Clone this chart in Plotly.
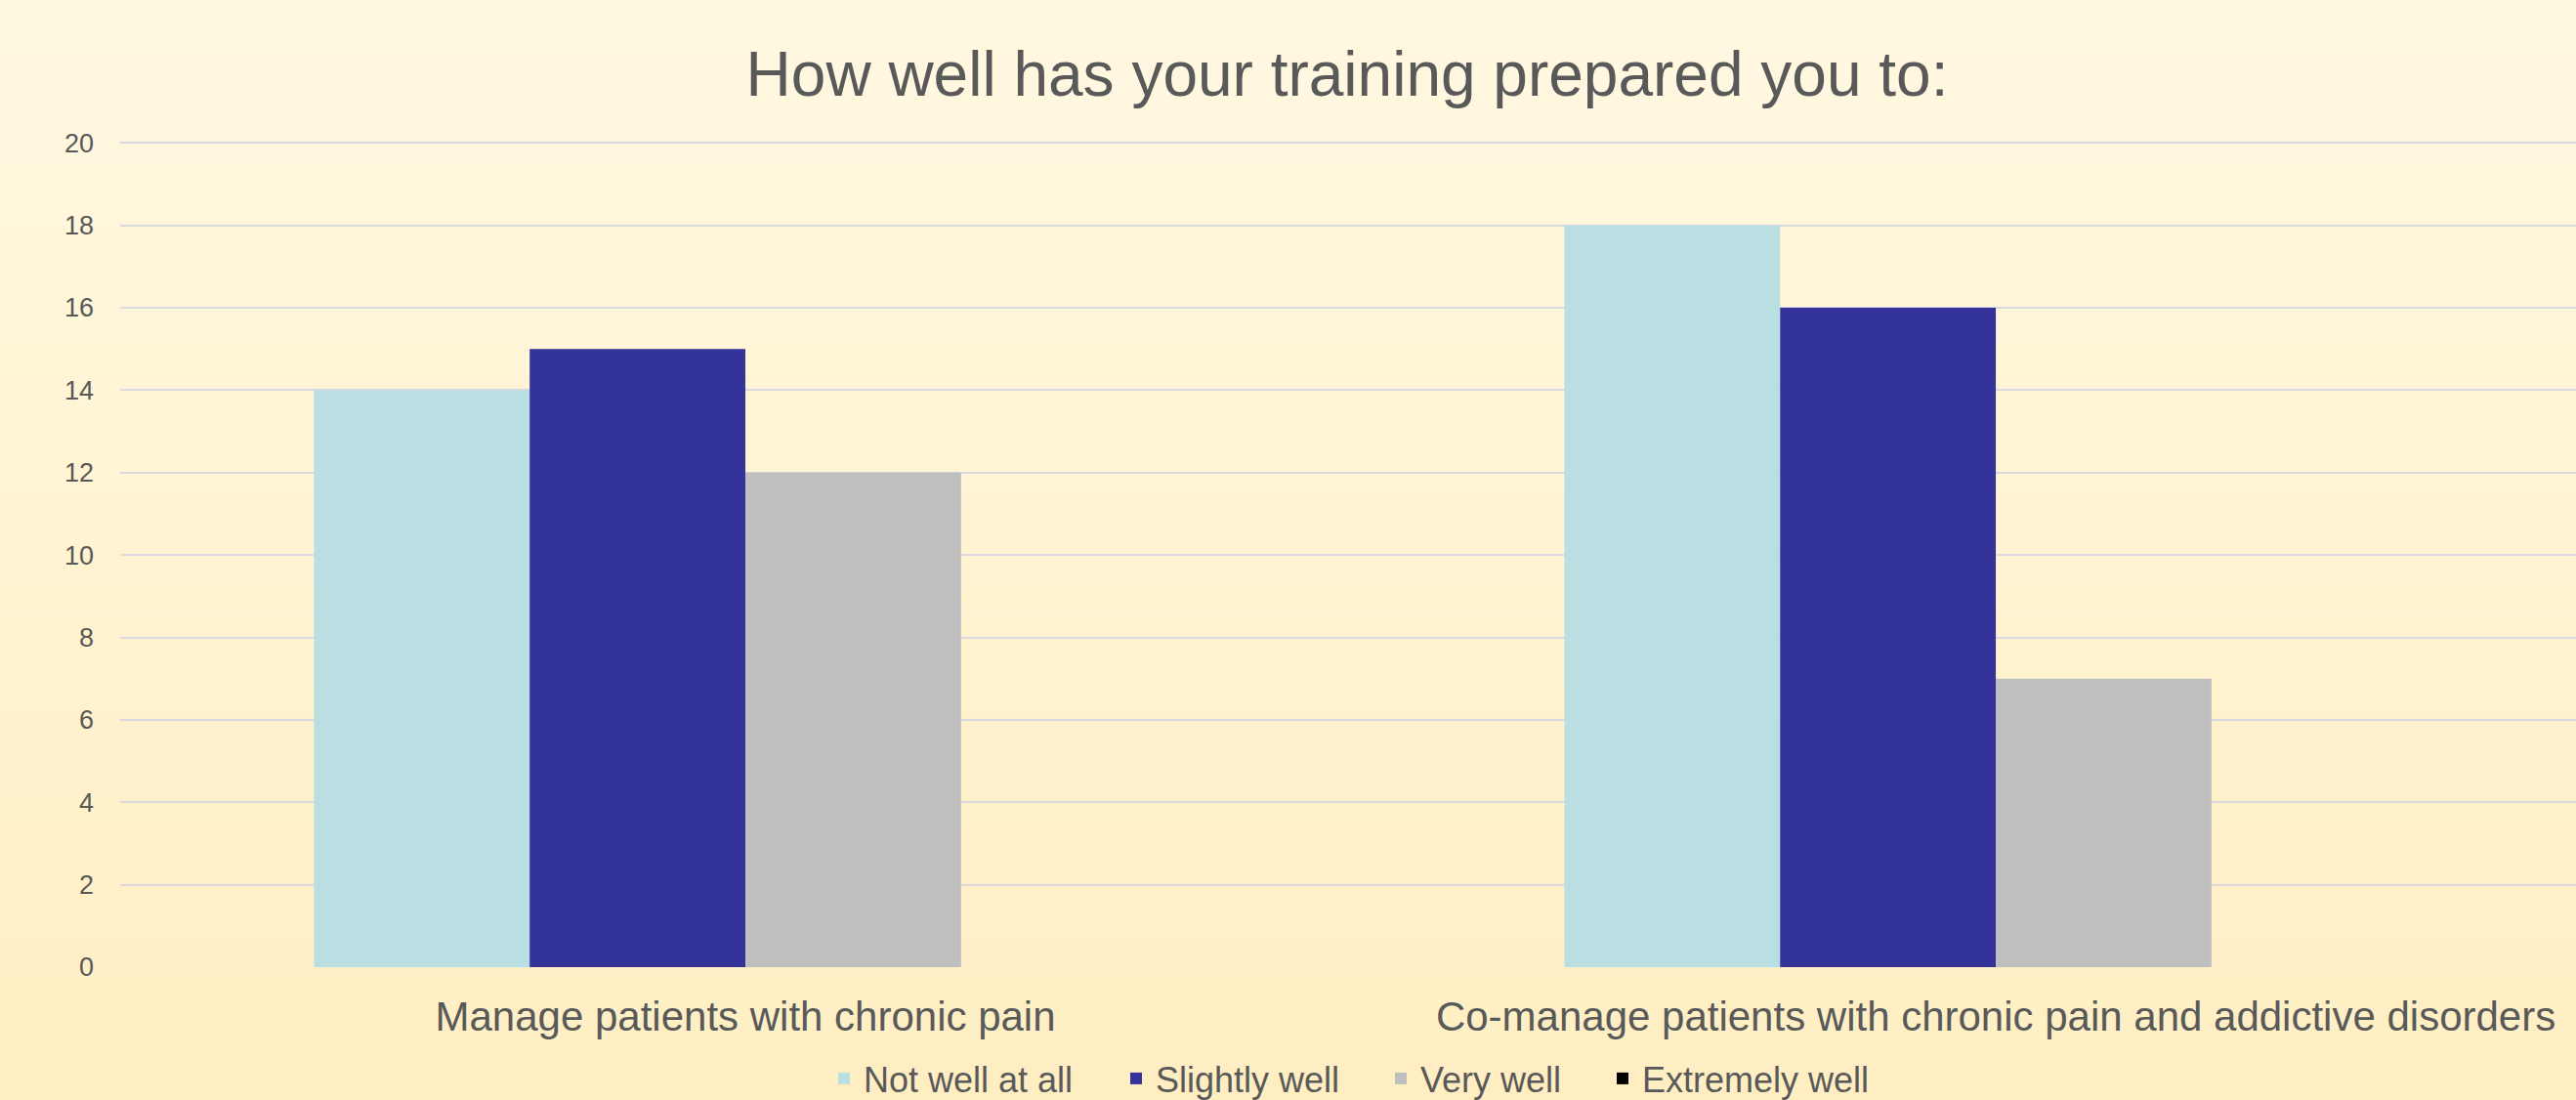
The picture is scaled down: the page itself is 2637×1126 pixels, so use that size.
import plotly.graph_objects as go

categories = ["Manage patients with chronic pain",
              "Co-manage patients with chronic pain and addictive disorders"]
series_names = ["Not well at all", "Slightly well", "Very well", "Extremely well"]
not_well = [14, 18]
slightly_well = [15, 16]
very_well = [12, 7]
extremely_well = [0, 0]

colors = ["#BADFE3", "#333399", "#BFBFBF", "#000000"]
font_family = "Liberation Sans, Arial, sans-serif"

W, H = 2637, 1126
ml, mr, mt, mb = 123, 0, 145, 136
pw = W - ml - mr
ph = H - mt - mb

# one legend per series so the entries can be spaced like the original
legend_ids = ["legend", "legend2", "legend3", "legend4"]
legend_px = [852, 1151, 1422, 1649]

fig = go.Figure()
for name, vals, col, lid in zip(series_names,
                                [not_well, slightly_well, very_well, extremely_well],
                                colors, legend_ids):
    fig.add_trace(go.Bar(x=categories, y=vals, name=name, legend=lid,
                         marker=dict(color=col, line=dict(width=0))))

# vertical background gradient made of thin strips
top_rgb = (255, 248, 225)
bot_rgb = (255, 238, 194)
n = 80
y_lo = -mb / ph
y_hi = 1 + mt / ph
x_lo = -ml / pw
shapes = []
for i in range(n):
    t = i / (n - 1)
    c = tuple(round(top_rgb[k] + (bot_rgb[k] - top_rgb[k]) * t) for k in range(3))
    y1 = y_hi - (y_hi - y_lo) * i / n
    y0 = y_hi - (y_hi - y_lo) * (i + 1) / n - 0.002
    shapes.append(dict(type="rect", xref="paper", yref="paper",
                       x0=x_lo, x1=1.01, y0=y0, y1=y1,
                       fillcolor="rgb(%d,%d,%d)" % c, line=dict(width=0),
                       layer="below"))

legends = {}
for lid, px_ in zip(legend_ids, legend_px):
    legends[lid] = dict(orientation="h", x=(px_ - 8 - ml) / pw, xanchor="left",
                        y=(990 - 1104) / ph, yanchor="middle",
                        font=dict(size=36, color="#595959"),
                        bgcolor="rgba(0,0,0,0)")

fig.update_layout(
    width=W, height=H,
    margin=dict(l=ml, r=mr, t=mt, b=mb, autoexpand=False),
    paper_bgcolor="#FFF3D4",
    plot_bgcolor="rgba(0,0,0,0)",
    shapes=shapes,
    barmode="group",
    bargap=0.31,
    bargroupgap=0,
    font=dict(family=font_family, color="#595959"),
    title=dict(text="How well has your training prepared you to:",
               x=1379 / W, xanchor="center", xref="container",
               y=1 - 76 / H, yanchor="middle",
               font=dict(size=64, color="#595959")),
    showlegend=True,
    **legends,
)

fig.update_xaxes(range=[-0.5, 1.464], showgrid=False, zeroline=False,
                 showline=False, ticks="",
                 tickfont=dict(size=42, color="#595959"),
                 ticklabelstandoff=22)
fig.update_yaxes(range=[0, 20.03], dtick=2, showgrid=True,
                 gridcolor="#D9D9DE", gridwidth=2, zeroline=False,
                 showline=False, ticks="",
                 tickfont=dict(size=27, color="#595959"),
                 ticklabelstandoff=26)

fig.write_html("out.html", config={"displayModeBar": False},
               post_script="document.body.style.margin='0';")
